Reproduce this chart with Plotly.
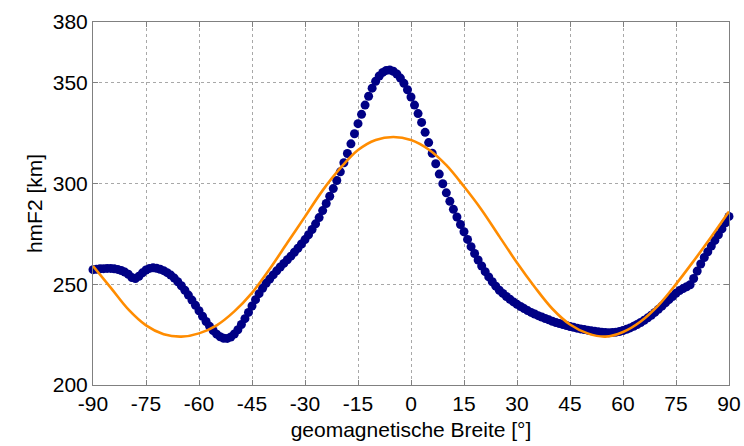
import plotly.graph_objects as go

# geomagnetic latitude (deg), 1-degree steps for the measured series
lat_meas = list(range(-90, 91))
hmf2_meas = [
    257.2, 257.4, 257.6, 257.7, 257.8, 257.8, 257.6, 257.3, 256.8, 256.0,  # -90..-81
    254.9, 253.3, 252.8, 253.9, 255.6, 257.0, 257.8, 258.1, 257.9, 257.4,  # -80..-71
    256.7, 255.7, 254.5, 253.0, 251.2, 249.2, 247.0, 244.6, 242.1, 239.5,  # -70..-61
    236.8, 234.1, 231.5, 229.1, 227.0, 225.2, 223.9, 223.2, 223.1, 223.8,  # -60..-51
    225.3, 227.4, 230.0, 232.9, 236.0, 239.2, 242.3, 245.3, 248.0, 250.4,  # -50..-41
    252.5, 254.6, 256.6, 258.5, 260.3, 262.1, 263.9, 265.8, 267.8, 269.9,  # -40..-31
    272.1, 274.5, 277.1, 279.9, 283.0, 286.5, 290.0, 293.6, 297.4, 301.4,  # -30..-21
    305.7, 310.2, 314.8, 319.6, 324.6, 329.6, 334.2, 338.8, 343.2, 347.2,  # -20..-11
    350.6, 353.2, 355.0, 356.0, 356.2, 355.6, 354.2, 352.2, 349.6, 346.4,  # -10..-1
    342.8, 338.8, 334.6, 330.2, 325.3, 320.2, 314.9, 309.7, 304.6, 299.8,  # 0..9
    295.3, 291.1, 287.1, 283.3, 279.6, 276.0, 272.2, 268.6, 265.2, 262.0,  # 10..19
    259.0, 256.2, 253.6, 251.2, 249.0, 247.0, 245.4, 243.9, 242.5, 241.2,  # 20..29
    240.0, 238.9, 237.9, 236.9, 236.0, 235.2, 234.4, 233.7, 233.0, 232.3,  # 30..39
    231.6, 231.0, 230.5, 230.0, 229.5, 229.0, 228.6, 228.2, 227.8, 227.5,  # 40..49
    227.2, 226.9, 226.6, 226.4, 226.2, 226.0, 225.9, 226.0, 226.2, 226.5,  # 50..59
    227.0, 227.6, 228.3, 229.1, 230.0, 231.0, 232.1, 233.3, 234.6, 236.0,  # 60..69
    237.5, 239.1, 240.7, 242.3, 243.9, 245.5, 246.8, 247.8, 248.7, 249.7,  # 70..79
    252.8, 256.5, 260.0, 263.2, 266.1, 268.9, 271.7, 274.5, 277.4, 280.4,  # 80..89
    283.6,                                                                  # 90
]

# model curve, 5-degree steps
lat_model = list(range(-90, 91, 5))
hmf2_model = [
    259.0, 248.3, 237.5, 229.6, 225.2, 224.0, 225.6, 229.6, 236.5, 245.7,  # -90..-45
    257.5, 270.5, 283.5, 296.5, 307.5, 316.5, 321.5, 323.0, 321.5, 316.8,  # -40..5
    309.0, 298.4, 286.8, 273.7, 260.6, 248.6, 237.8, 230.0, 225.6, 224.0,  # 10..55
    226.3, 231.5, 239.5, 250.0, 261.5, 273.5, 286.0,                       # 60..90
]

x_ticks = [-90, -75, -60, -45, -30, -15, 0, 15, 30, 45, 60, 75, 90]
y_ticks = [200, 250, 300, 350, 380]

FONT = "Liberation Sans, Arial, Helvetica, sans-serif"

fig = go.Figure()
fig.add_trace(go.Scatter(
    x=lat_meas, y=hmf2_meas, mode="markers",
    marker=dict(size=9, color="#000085", line=dict(width=0)),
    cliponaxis=False, showlegend=False,
))
fig.add_trace(go.Scatter(
    x=lat_model, y=hmf2_model, mode="lines",
    line=dict(color="#FF8C00", width=2.6, shape="spline", smoothing=1.0),
    cliponaxis=False, showlegend=False,
))

axis_common = dict(
    showline=True, linecolor="#808080", linewidth=1, mirror="ticks",
    ticks="inside", ticklen=5, tickcolor="#808080", tickwidth=1,
    showgrid=True, gridcolor="#a8a8a8", griddash="dot", gridwidth=1,
    zeroline=False, automargin=False,
    tickfont=dict(family=FONT, size=21, color="black"),
    title_font=dict(family=FONT, size=21, color="black"),
)

fig.update_xaxes(
    range=[-90, 90], tickvals=x_ticks, ticktext=[str(v) for v in x_ticks],
    title_text="geomagnetische Breite [°]", title_standoff=8, **axis_common,
)
fig.update_yaxes(
    range=[200, 380], tickvals=y_ticks, ticktext=[str(v) for v in y_ticks],
    title_text="hmF2 [km]", title_standoff=4, **axis_common,
)

fig.update_layout(
    width=744, height=446,
    margin=dict(l=93, r=15, t=22, b=61, pad=0),
    paper_bgcolor="white", plot_bgcolor="white",
    font=dict(family=FONT, color="black"),
)

fig.write_html("out.html")
